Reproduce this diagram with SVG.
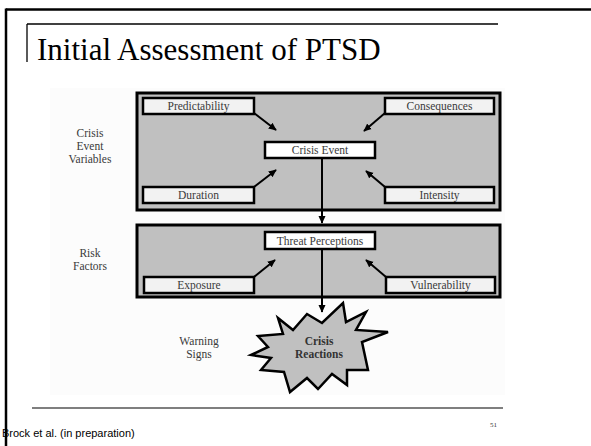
<svg xmlns="http://www.w3.org/2000/svg" width="591" height="446" viewBox="0 0 591 446">
<style>
.lbl{font-family:"Liberation Serif","Times New Roman",serif;font-size:11.5px;fill:#3a3a3a;text-anchor:middle}
.bold{font-weight:bold;fill:#333}
.panel{fill:#c0c0c0;stroke:#000;stroke-width:3}
.box{fill:#f2f2f2;stroke:#000;stroke-width:2.5}
.wbox{fill:#fff;stroke:#000;stroke-width:2.5}
.conn{stroke:#000;stroke-width:2;fill:none}
</style>
<defs>
<marker id="ah" viewBox="0 0 10 10" refX="9" refY="5" markerWidth="8" markerHeight="8" markerUnits="userSpaceOnUse" orient="auto">
<path d="M0,0.5 L10,5 L0,9.5 z" fill="#000"/>
</marker>
</defs>
<rect width="591" height="446" fill="#fff"/>
<g id="frame">
<line x1="6" y1="9.5" x2="591" y2="9.5" stroke="#000" stroke-width="2.5"/>
<line x1="6" y1="8.5" x2="6" y2="446" stroke="#000" stroke-width="2.5"/>
<line x1="27" y1="24" x2="498" y2="24" stroke="#000" stroke-width="1.3"/>
<line x1="27" y1="24" x2="27" y2="62" stroke="#000" stroke-width="1.3"/>
<line x1="32" y1="408" x2="503" y2="408" stroke="#555" stroke-width="1.5"/>
</g>
<g id="title">
<text x="37" y="60" font-family="'Liberation Serif','Times New Roman',serif" font-size="31" fill="#000">Initial Assessment of PTSD</text>
</g>
<rect x="50" y="88" width="455" height="307" fill="#fcfcfc"/>
<g id="panel-crisis-event-variables">
<rect class="panel" x="137" y="93" width="363" height="117"/>
</g>
<g id="panel-risk-factors">
<rect class="panel" x="137" y="225" width="363" height="72"/>
</g>
<g id="label-crisis-event-variables">
<text class="lbl" x="90" y="137">Crisis</text>
<text class="lbl" x="90" y="150">Event</text>
<text class="lbl" x="90" y="163">Variables</text>
</g>
<g id="label-risk-factors">
<text class="lbl" x="90" y="257">Risk</text>
<text class="lbl" x="90" y="270">Factors</text>
</g>
<g id="label-warning-signs">
<text class="lbl" x="199" y="345">Warning</text>
<text class="lbl" x="199" y="358">Signs</text>
</g>
<g id="predictability">
<rect class="box" x="143" y="98" width="111" height="16"/>
<text class="lbl" x="198.5" y="110">Predictability</text>
</g>
<g id="consequences">
<rect class="box" x="385" y="98" width="109" height="16"/>
<text class="lbl" x="439.5" y="110">Consequences</text>
</g>
<g id="crisis-event">
<rect class="wbox" x="265" y="142" width="110" height="16"/>
<text class="lbl" x="320" y="154">Crisis Event</text>
</g>
<g id="duration">
<rect class="box" x="143" y="187" width="111" height="16"/>
<text class="lbl" x="198.5" y="199">Duration</text>
</g>
<g id="intensity">
<rect class="box" x="385" y="187" width="109" height="16"/>
<text class="lbl" x="439.5" y="199">Intensity</text>
</g>
<g id="threat-perceptions">
<rect class="wbox" x="265" y="232" width="110" height="17"/>
<text class="lbl" x="320" y="244.5">Threat Perceptions</text>
</g>
<g id="exposure">
<rect class="box" x="144" y="277" width="110" height="16"/>
<text class="lbl" x="199" y="289">Exposure</text>
</g>
<g id="vulnerability">
<rect class="box" x="386" y="277" width="109" height="16"/>
<text class="lbl" x="440.5" y="289">Vulnerability</text>
</g>
<g id="crisis-reactions">
<polygon points="278,318 293,330 307,314 322,323 343,303 346,322 366,312 356,330 388,332 362,342 368,370 347,370 347,385 332,374 318,389 307,378 290,392 284,372 261,370 271,358 251,355 268,347 258,336 283,334" fill="#c0c0c0" stroke="#000" stroke-width="2.5" stroke-linejoin="miter"/>
<text class="lbl bold" x="319" y="345">Crisis</text>
<text class="lbl bold" x="319" y="358">Reactions</text>
</g>
<g id="connectors">
<line class="conn" x1="254" y1="113" x2="276" y2="130" marker-end="url(#ah)"/>
<line class="conn" x1="385" y1="113" x2="364" y2="131" marker-end="url(#ah)"/>
<line class="conn" x1="254" y1="187" x2="276" y2="170" marker-end="url(#ah)"/>
<line class="conn" x1="385" y1="187" x2="366" y2="171" marker-end="url(#ah)"/>
<line class="conn" x1="322" y1="158" x2="322" y2="223" marker-end="url(#ah)"/>
<line class="conn" x1="254" y1="277" x2="275" y2="260" marker-end="url(#ah)"/>
<line class="conn" x1="386" y1="277" x2="366" y2="260" marker-end="url(#ah)"/>
<line class="conn" x1="322" y1="249" x2="322" y2="312" marker-end="url(#ah)"/>
</g>
<g id="footer">
<text x="2" y="437" font-family="'Liberation Sans',Arial,sans-serif" font-size="11" fill="#000">Brock et al. (in preparation)</text>
<text x="490" y="427" font-family="'Liberation Serif','Times New Roman',serif" font-size="7" fill="#333">51</text>
</g>
</svg>
